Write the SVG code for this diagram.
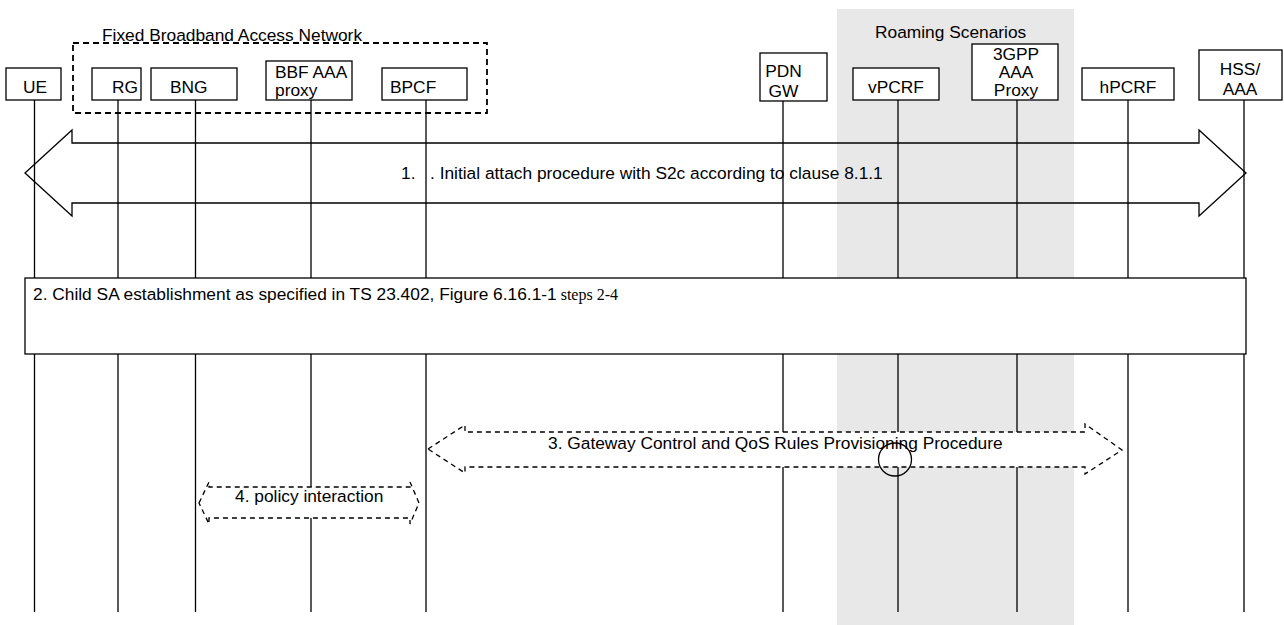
<svg xmlns="http://www.w3.org/2000/svg" width="1284" height="625" viewBox="0 0 1284 625">
<style>
text{font-family:"Liberation Sans",Arial,sans-serif;font-size:17.33px;fill:#000}
.box{fill:#fff;stroke:#000;stroke-width:1.3}
.life{stroke:#000;stroke-width:1.3;fill:none}
.blk{fill:none;stroke:#000;stroke-width:1.3}
.dsh{fill:#fff;stroke:#000;stroke-width:1.3;stroke-dasharray:5,4}
.c{text-anchor:middle}
</style>
<defs>
<clipPath id="clip1"><rect x="0" y="150" width="1284" height="32.5"/></clipPath>
</defs>
<rect id="roaming" x="837" y="9" width="237" height="616" fill="#e8e8e8"/>
<text x="875" y="38">Roaming Scenarios</text>
<g id="fban">
<rect x="73" y="43" width="414" height="70" fill="none" stroke="#000" stroke-width="1.8" stroke-dasharray="6,4"/>
<text x="102" y="41">Fixed Broadband Access Network</text>
</g>
<g id="lifelines" class="life">
<line x1="34.5" y1="100" x2="34.5" y2="612"/>
<line x1="118" y1="100" x2="118" y2="612"/>
<line x1="195.5" y1="100" x2="195.5" y2="612"/>
<line x1="311" y1="100" x2="311" y2="612"/>
<line x1="426" y1="100" x2="426" y2="612"/>
<line x1="783" y1="100" x2="783" y2="612"/>
<line x1="898" y1="100" x2="898" y2="612"/>
<line x1="1017" y1="100" x2="1017" y2="612"/>
<line x1="1128" y1="100" x2="1128" y2="612"/>
<line x1="1244" y1="100" x2="1244" y2="612"/>
</g>
<g id="UE"><rect class="box" x="6" y="68" width="55" height="32"/><text x="23" y="93">UE</text></g>
<g id="RG"><rect class="box" x="92" y="68" width="49" height="32"/><text x="112" y="93">RG</text></g>
<g id="BNG"><rect class="box" x="151" y="68" width="86" height="32"/><text x="170" y="93">BNG</text></g>
<g id="BBF"><rect class="box" x="266" y="61" width="86" height="39"/><text x="275" y="78">BBF AAA</text><text x="275" y="96">proxy</text></g>
<g id="BPCF"><rect class="box" x="382" y="68" width="85" height="32"/><text x="390" y="93">BPCF</text></g>
<g id="PDNGW"><rect class="box" x="760" y="53" width="67" height="48"/><text class="c" x="783.5" y="77">PDN</text><text class="c" x="783.5" y="97">GW</text></g>
<g id="vPCRF"><rect class="box" x="853" y="68" width="86" height="32"/><text class="c" x="896" y="93">vPCRF</text></g>
<g id="AAAProxy"><rect class="box" x="972" y="44" width="86" height="56"/><text class="c" x="1016" y="60">3GPP</text><text class="c" x="1016" y="78">AAA</text><text class="c" x="1016" y="96">Proxy</text></g>
<g id="hPCRF"><rect class="box" x="1082" y="68" width="92" height="32"/><text class="c" x="1128" y="93">hPCRF</text></g>
<g id="HSS"><rect class="box" x="1199" y="50" width="83" height="50"/><text class="c" x="1240" y="75">HSS/</text><text class="c" x="1240" y="95">AAA</text></g>
<g id="connectors">
<g id="step1">
<path class="blk" d="M25,173 L72,130 L72,143 L1199,143 L1199,130 L1246,173 L1199,216 L1199,203 L72,203 L72,216 Z"/>
<g clip-path="url(#clip1)"><text x="401" y="178.5">1.</text><text x="430" y="178.5">. Initial attach procedure with S2c according to clause 8.1.1</text></g>
</g>
<g id="step2">
<rect class="box" x="25" y="278" width="1221" height="76"/>
<text x="33" y="300">2. Child SA establishment as specified in TS 23.402, Figure 6.16.1-1<tspan font-family="'Liberation Serif','Times New Roman',serif" font-size="16"> steps 2-4</tspan></text>
</g>
<g id="step3">
<path class="dsh" d="M428,449 L465,425 L465,432 L1085,432 L1085,424 L1122,450 L1085,474 L1085,467 L465,467 L465,473 Z"/>
<text x="548" y="449">3. Gateway Control and QoS Rules Provisioning Procedure</text>
<circle cx="895" cy="459.5" r="16.5" fill="none" stroke="#000" stroke-width="1.3"/>
</g>
<g id="step4">
<path class="dsh" d="M199,503 L209,482 L209,487 L410,487 L410,482 L419,503 L410,524 L410,518 L209,518 L209,524 Z"/>
<text x="235" y="502">4. policy interaction</text>
</g>
</g>
</svg>
